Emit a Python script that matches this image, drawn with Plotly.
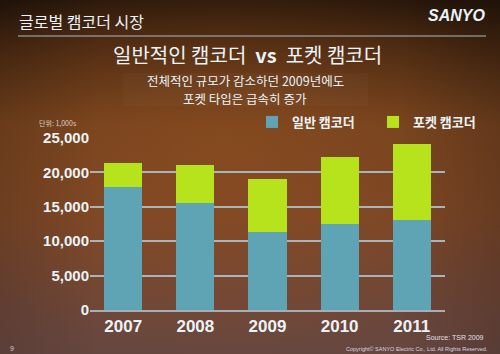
import base64
import plotly.graph_objects as go

years = ["2007", "2008", "2009", "2010", "2011"]
general = [17900, 15600, 11300, 12500, 13100]
pocket = [3500, 5500, 7700, 9700, 11000]
series_names = ["일반 캠코더", "포켓 캠코더"]
y_ticks = [0, 5000, 10000, 15000, 20000, 25000]
y_tick_labels = ["0", "5,000", "10,000", "15,000", "20,000", "25,000"]

W, H = 500, 354
ML, MR, MT, MB = 90, 55, 138, 44
PW, PH = W - ML - MR, H - MT - MB

def px(x, y):
    return (x - ML) / PW, (H - MB - y) / PH

KR = "Noto Sans CJK KR"
TXT = "#eaf4f8"

fig = go.Figure()
fig.add_bar(x=years, y=general, name=series_names[0], marker_color="#5fa4b4",
            marker_line_width=0, width=0.53)
fig.add_bar(x=years, y=pocket, name=series_names[1], marker_color="#b6e31c",
            marker_line_width=0, width=0.53)

svg = f'''<svg xmlns="http://www.w3.org/2000/svg" width="{W}" height="{H}">
<defs>
<linearGradient id="g" x1="0" y1="0" x2="0" y2="1">
<stop offset="0" stop-color="#24150a"/>
<stop offset="0.12" stop-color="#432510"/>
<stop offset="0.35" stop-color="#72411e"/>
<stop offset="0.6" stop-color="#794526"/>
<stop offset="0.85" stop-color="#6e4638"/>
<stop offset="1" stop-color="#664740"/>
</linearGradient>
<radialGradient id="r" cx="0.45" cy="0.42" r="0.6">
<stop offset="0" stop-color="#a0561f" stop-opacity="0.4"/>
<stop offset="1" stop-color="#a0561f" stop-opacity="0"/>
</radialGradient>
<linearGradient id="s" x1="0" y1="0" x2="1" y2="0">
<stop offset="0" stop-color="#000" stop-opacity="0.12"/>
<stop offset="0.2" stop-color="#000" stop-opacity="0"/>
<stop offset="0.8" stop-color="#000" stop-opacity="0"/>
<stop offset="1" stop-color="#000" stop-opacity="0.15"/>
</linearGradient>
</defs>
<rect width="{W}" height="{H}" fill="url(#g)"/>
<rect width="{W}" height="{H}" fill="url(#r)"/>
<rect width="{W}" height="{H}" fill="url(#s)"/>
</svg>'''
src = "data:image/svg+xml;base64," + base64.b64encode(svg.encode()).decode()
x0, y0 = px(0, 0)
fig.add_layout_image(source=src, xref="paper", yref="paper", x=x0, y=y0,
                     sizex=W / PW, sizey=H / PH, xanchor="left", yanchor="top",
                     sizing="stretch", layer="below")

def ann(text, x, y, size, color=TXT, family=KR, xanchor="center", bold=False, italic=False):
    if bold:
        text = f"<b>{text}</b>"
    if italic:
        text = f"<i>{text}</i>"
    ax, ay = px(x, y)
    fig.add_annotation(text=text, x=ax, y=ay, xref="paper", yref="paper",
                       showarrow=False, xanchor=xanchor, yanchor="middle",
                       font=dict(size=size, color=color, family=family))

ann("글로벌 캠코더 시장", 17, 21, 16, xanchor="left")
ann("SANYO", 456, 15, 16, color="#e8f2fa", family="Liberation Sans", bold=True, italic=True)
ann("일반적인 캠코더  <b>vs</b>  포켓 캠코더", 247, 54, 20)
ann("전체적인 규모가 감소하던 2009년에도", 245, 80, 12.5)
ann("포켓 타입은 급속히 증가", 245, 98, 12.5)
ann("단위: 1,000s", 37, 123, 7, color="#d8cfc8", xanchor="left")
ann("Source: TSR 2009", 486, 337, 7, color="#e0e0e8", family="Liberation Sans", xanchor="right")
ann("Copyright© SANYO Electric Co., Ltd. All Rights Reserved.", 490, 349, 5.5,
    color="#d8d8e0", family="Liberation Sans", xanchor="right")
ann("9", 8, 348, 7, color="#d0d0d8", family="Liberation Sans", xanchor="left")

lx0, ly0 = px(18, 36)
lx1, _ = px(486, 36)
fig.add_shape(type="line", xref="paper", yref="paper", x0=lx0, x1=lx1, y0=ly0, y1=ly0,
              line=dict(color="#a6bcc4", width=1))
bx0, by0 = px(123, 73)
bx1, by1 = px(368, 106)
fig.add_shape(type="rect", xref="paper", yref="paper", x0=bx0, x1=bx1, y0=by0, y1=by1,
              line_width=0, fillcolor="rgba(255,255,255,0.025)", layer="below")

legx, legy = px(252, 122)
fig.update_layout(
    width=W, height=H, barmode="stack", bargap=0.47,
    margin=dict(l=ML, r=MR, t=MT, b=MB, autoexpand=False),
    paper_bgcolor="#6e3f22", plot_bgcolor="rgba(0,0,0,0)",
    legend=dict(orientation="h", x=legx, y=legy, xanchor="left", yanchor="middle",
                font=dict(size=13, color=TXT, family=KR, weight="bold"),
                bgcolor="rgba(0,0,0,0)",
                entrywidth=76, itemwidth=30, traceorder="normal"),
    xaxis=dict(range=[-0.46, 4.46], showgrid=False, zeroline=False, showline=True,
               linecolor="#a4b0b6", linewidth=1.5, ticks="",
               tickfont=dict(size=17, color=TXT, family="Liberation Sans", weight="bold")),
    yaxis=dict(range=[0, 25000], tickvals=y_ticks, ticktext=y_tick_labels,
               showgrid=True, gridcolor="#a8b6bc", gridwidth=1.5, zeroline=False,
               showline=False, ticks="",
               tickfont=dict(size=15, color=TXT, family="Liberation Sans", weight="bold")),
    font=dict(family=KR),
)
fig.write_html("out.html")
